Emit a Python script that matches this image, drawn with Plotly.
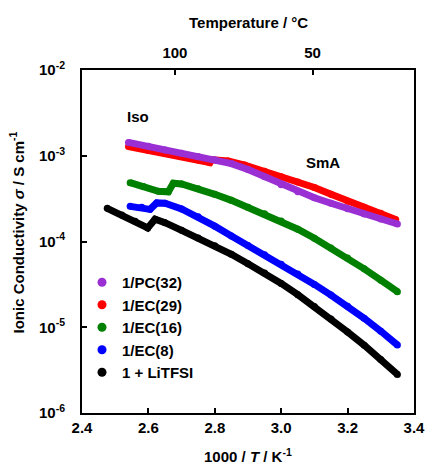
import math
import plotly.graph_objects as go

# ---------------- data ----------------
pc32_x = [2.54, 2.60, 2.65, 2.70, 2.75, 2.80, 2.85, 2.90, 2.95, 3.00, 3.05, 3.10, 3.15, 3.20, 3.25, 3.30, 3.35]
pc32_y = [1.43e-3, 1.29e-3, 1.17e-3, 1.07e-3, 9.8e-4, 9.0e-4, 8.1e-4, 6.9e-4, 5.7e-4, 4.6e-4, 3.8e-4, 3.24e-4, 2.79e-4, 2.41e-4, 2.09e-4, 1.83e-4, 1.60e-4]

ec29_x = [2.54, 2.60, 2.65, 2.70, 2.75, 2.785, 2.79, 2.84, 2.89, 2.95, 3.00, 3.05, 3.10, 3.15, 3.20, 3.25, 3.30, 3.345]
ec29_y = [1.28e-3, 1.15e-3, 1.06e-3, 9.8e-4, 8.9e-4, 8.3e-4, 9.0e-4, 8.7e-4, 7.8e-4, 6.6e-4, 5.7e-4, 4.95e-4, 4.27e-4, 3.55e-4, 2.95e-4, 2.51e-4, 2.14e-4, 1.80e-4]

ec16_x = [2.545, 2.585, 2.63, 2.66, 2.675, 2.70, 2.75, 2.80, 2.85, 2.90, 2.95, 3.00, 3.05, 3.10, 3.15, 3.20, 3.25, 3.30, 3.35]
ec16_y = [4.85e-4, 4.37e-4, 3.85e-4, 3.80e-4, 4.78e-4, 4.68e-4, 4.12e-4, 3.55e-4, 3.02e-4, 2.51e-4, 2.11e-4, 1.73e-4, 1.39e-4, 1.09e-4, 8.4e-5, 6.4e-5, 4.8e-5, 3.54e-5, 2.6e-5]

ec8_x = [2.545, 2.58, 2.605, 2.625, 2.65, 2.70, 2.75, 2.80, 2.85, 2.90, 2.95, 3.00, 3.05, 3.10, 3.15, 3.20, 3.25, 3.30, 3.35]
ec8_y = [2.57e-4, 2.51e-4, 2.37e-4, 2.82e-4, 2.79e-4, 2.40e-4, 1.95e-4, 1.51e-4, 1.16e-4, 9.0e-5, 7.0e-5, 5.43e-5, 4.17e-5, 3.16e-5, 2.37e-5, 1.76e-5, 1.27e-5, 9.0e-6, 6.2e-6]

litfsi_x = [2.476, 2.52, 2.56, 2.598, 2.62, 2.65, 2.70, 2.75, 2.80, 2.85, 2.90, 2.95, 3.00, 3.05, 3.10, 3.15, 3.20, 3.25, 3.30, 3.35]
litfsi_y = [2.44e-4, 2.04e-4, 1.72e-4, 1.44e-4, 1.82e-4, 1.66e-4, 1.35e-4, 1.10e-4, 8.9e-5, 7.1e-5, 5.5e-5, 4.3e-5, 3.24e-5, 2.40e-5, 1.74e-5, 1.245e-5, 8.8e-6, 6.17e-6, 4.22e-6, 2.82e-6]

series_names = ["1/PC(32)", "1/EC(29)", "1/EC(16)", "1/EC(8)", "1 + LiTFSI"]
series_colors = ["#9A2FD4", "#FF0000", "#008000", "#0000FF", "#000000"]
series_x = [pc32_x, ec29_x, ec16_x, ec8_x, litfsi_x]
series_y = [pc32_y, ec29_y, ec16_y, ec8_y, litfsi_y]

x_ticks = [2.4, 2.6, 2.8, 3.0, 3.2, 3.4]
y_ticks = [1e-6, 1e-5, 1e-4, 1e-3, 1e-2]
y_ticktext = ["10<sup>-6</sup>", "10<sup>-5</sup>", "10<sup>-4</sup>", "10<sup>-3</sup>", "10<sup>-2</sup>"]
temp_ticks_c = [100, 50]

# ---------------- figure ----------------
FONT = "Liberation Sans, Arial, sans-serif"
fig = go.Figure()

# data bands (drawn back to front: black first, purple last)
for i in reversed(range(len(series_names))):
    fig.add_trace(go.Scatter(
        x=series_x[i], y=series_y[i], mode="lines+markers",
        line=dict(color=series_colors[i], width=7),
        marker=dict(color=series_colors[i], size=7),
        showlegend=False, hoverinfo="skip"))

# legend entries (markers only)
for i in range(len(series_names)):
    fig.add_trace(go.Scatter(
        x=[None], y=[None], mode="markers", name=series_names[i],
        marker=dict(color=series_colors[i], size=9), showlegend=True))

# top temperature axis trace (invisible, just to activate xaxis2)
fig.add_trace(go.Scatter(x=[None], y=[None], xaxis="x2", yaxis="y", showlegend=False))

temp_pos = [1000.0 / (t + 273.15) for t in temp_ticks_c]

axis_common = dict(showline=True, linewidth=2, linecolor="black", ticks="inside",
                   ticklen=5, tickwidth=2, tickcolor="black", showgrid=False, zeroline=False,
                   tickfont=dict(family=FONT, size=15, color="black", weight="bold"))

fig.update_layout(
    width=437, height=464,
    margin=dict(l=82, r=12, t=70, b=51),
    paper_bgcolor="white", plot_bgcolor="white",
    font=dict(family=FONT, color="black"),
    xaxis=dict(range=[2.4, 3.4], tickvals=x_ticks, tickformat=".1f", mirror=True, **axis_common),
    xaxis2=dict(range=[2.4, 3.4], overlaying="x", side="top", anchor="y",
                tickvals=temp_pos, ticktext=[str(t) for t in temp_ticks_c],
                showline=False, ticks="inside", ticklen=5, tickwidth=2, tickcolor="black",
                showgrid=False, zeroline=False, ticklabelstandoff=8,
                tickfont=dict(family=FONT, size=15, color="black", weight="bold")),
    yaxis=dict(type="log", range=[-6, -2], tickvals=y_ticks, ticktext=y_ticktext,
               mirror=True, ticklabelstandoff=12, **axis_common),
    legend=dict(x=0.0, y=0.07, xanchor="left", yanchor="bottom", bgcolor="rgba(0,0,0,0)",
                font=dict(family=FONT, size=15, color="black", weight="bold"),
                tracegroupgap=0),
    showlegend=True,
)

ann = dict(showarrow=False, font=dict(family=FONT, size=15, color="black", weight="bold"))
fig.add_annotation(text="Temperature / °C", xref="paper", yref="paper", x=0.5, y=1,
                   yshift=48, yanchor="middle", xanchor="center", **ann)
fig.add_annotation(text="1000 / <i>T</i> / K<sup>-1</sup>", xref="paper", yref="paper", x=0.5, y=0,
                   yshift=-42, yanchor="middle", xanchor="center", **ann)
fig.add_annotation(text="Ionic Conductivity <i>σ</i> / S cm<sup>-1</sup>", xref="paper", yref="paper",
                   x=0, y=0.5, xshift=-65, yshift=9, textangle=-90,
                   xanchor="center", yanchor="middle", **ann)
fig.add_annotation(text="Iso", xref="x", yref="y", x=2.569, y=-2.548, **ann)
fig.add_annotation(text="SmA", xref="x", yref="y", x=3.125, y=-3.073, **ann)

fig.write_html("out.html")
